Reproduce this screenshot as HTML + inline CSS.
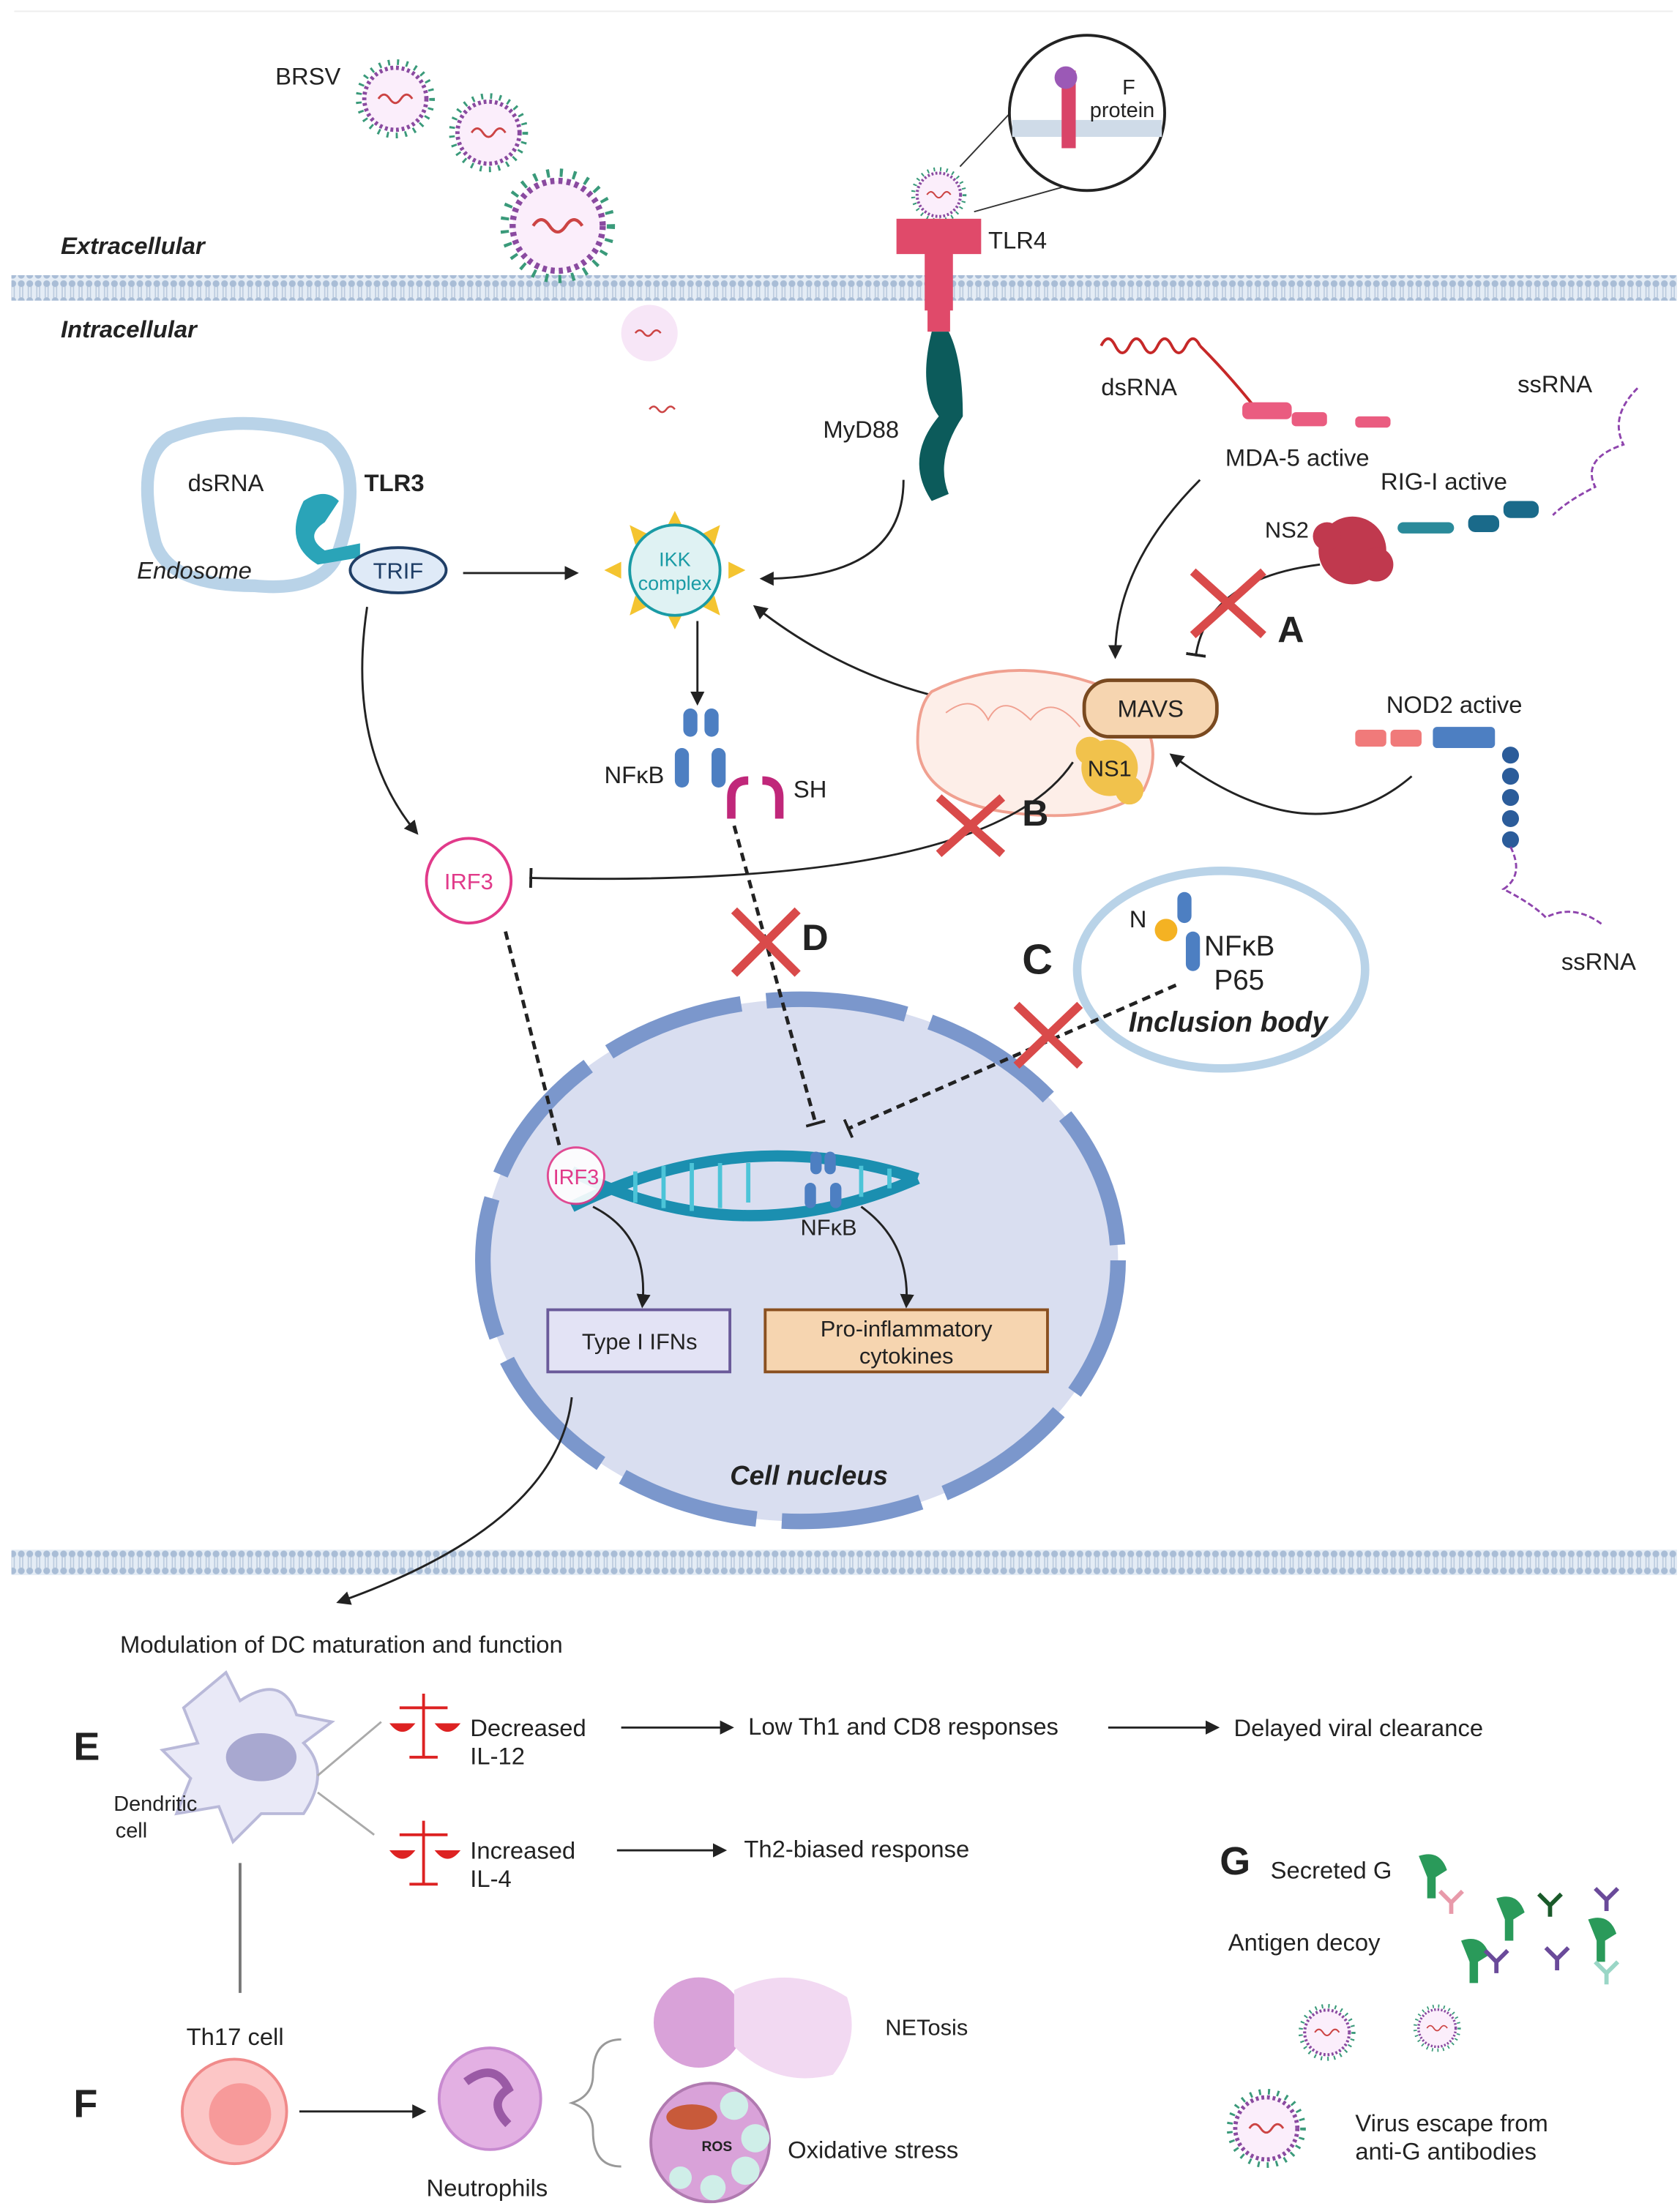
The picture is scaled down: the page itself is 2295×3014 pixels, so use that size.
<!DOCTYPE html>
<html><head><meta charset="utf-8"><style>
html,body{margin:0;padding:0;background:#fff}
svg{display:block}
text{font-family:"Liberation Sans",sans-serif;fill:#222}
</style></head><body>
<svg width="2295" height="3014" viewBox="0 0 1190 1563" xmlns="http://www.w3.org/2000/svg">
<defs>
<pattern id="mem" width="6" height="18" patternUnits="userSpaceOnUse">
<rect width="6" height="18" fill="#e4ecf5"/>
<circle cx="3" cy="3" r="2.4" fill="#a9bdd6"/>
<circle cx="3" cy="15" r="2.4" fill="#a9bdd6"/>
<line x1="2" y1="5" x2="2" y2="13" stroke="#b8c8dc" stroke-width="0.8"/>
<line x1="4" y1="5" x2="4" y2="13" stroke="#b8c8dc" stroke-width="0.8"/>
</pattern>
<marker id="ar" markerWidth="10" markerHeight="10" refX="8" refY="5" orient="auto" markerUnits="userSpaceOnUse"><path d="M0,0 L10,5 L0,10 z" fill="#222"/></marker>
<marker id="tb" markerWidth="4" markerHeight="14" refX="2" refY="7" orient="auto" markerUnits="userSpaceOnUse"><rect x="0" y="0" width="2" height="14" fill="#222"/></marker>
<g id="virus">
<circle r="22" fill="#fbeefb" stroke="#8a4aa0" stroke-width="3" stroke-dasharray="2 2"/>
<circle r="26" fill="none" stroke="#3a9a7a" stroke-width="4" stroke-dasharray="1.5 5"/>
<path d="M-12,0 q4,-6 8,0 t8,0 t8,0" fill="none" stroke="#c44" stroke-width="1.5"/>
</g>
</defs>

<!-- membranes -->
<rect x="8" y="195" width="1180" height="18" fill="url(#mem)"/>
<rect x="8" y="1098" width="1180" height="18" fill="url(#mem)"/>
<line x1="10" y1="8" x2="1185" y2="8" stroke="#eee"/>

<text x="43" y="180" font-size="17" font-weight="bold" font-style="italic">Extracellular</text>
<text x="43" y="239" font-size="17" font-weight="bold" font-style="italic">Intracellular</text>

<!-- viruses -->
<text x="195" y="60" font-size="17">BRSV</text>
<use href="#virus" x="280" y="70"/>
<use href="#virus" x="346" y="94"/>
<g transform="translate(395,160) scale(1.45)"><use href="#virus"/></g>
<circle cx="460" cy="236" r="20" fill="#f7e6f7"/>
<path d="M450,236 q3,-4 6,0 t6,0 t6,0" fill="none" stroke="#c44" stroke-width="1.3"/>
<path d="M460,290 q3,-4 6,0 t6,0 t6,0" fill="none" stroke="#c44" stroke-width="1.3"/>

<!-- TLR4 -->
<g transform="translate(665,138) scale(0.7)"><use href="#virus"/></g>
<line x1="680" y1="118" x2="725" y2="70" stroke="#333"/>
<line x1="690" y1="150" x2="780" y2="125" stroke="#333"/>
<circle cx="770" cy="80" r="55" fill="#fff" stroke="#222" stroke-width="2"/>
<rect x="717" y="85" width="106" height="12" fill="#cfdbe8"/>
<rect x="752" y="50" width="10" height="55" fill="#d94468"/>
<circle cx="755" cy="55" r="8" fill="#9b59b6"/>
<text x="795" y="67" font-size="15">F</text>
<text x="772" y="83" font-size="15">protein</text>
<path d="M635,155 h60 v25 h-20 v40 h-20 v-40 h-20z" fill="#e04a6a"/>
<rect x="657" y="190" width="16" height="45" fill="#e04a6a"/>
<path d="M660,235 q-10,40 5,60 q-25,30 -5,60 l12,-5 q-10,-25 10,-55 q0,-40 -10,-60z" fill="#0c5b5b"/>
<text x="700" y="176" font-size="17">TLR4</text>
<text x="583" y="310" font-size="17">MyD88</text>

<!-- Endosome -->
<path d="M120,310 q50,-20 110,0 q30,20 10,80 q-10,30 -60,25 q-60,0 -70,-30 q-15,-60 10,-75z" fill="#fff" stroke="#b9d3e8" stroke-width="9"/>
<text x="133" y="348" font-size="17">dsRNA</text>
<text x="258" y="348" font-size="17" font-weight="bold">TLR3</text>
<text x="97" y="410" font-size="17" font-style="italic">Endosome</text>
<path d="M215,355 q15,-10 25,0 l-10,15 q-15,10 0,20 l25,-5 v10 l-30,5 q-25,-15 -10,-45z" fill="#2aa4b8"/>
<ellipse cx="282" cy="404" rx="34" ry="16" fill="#dfeaf7" stroke="#1f3e66" stroke-width="2"/>
<text x="282" y="410" font-size="16" text-anchor="middle" style="fill:#1f3e66">TRIF</text>

<!-- IKK -->
<g fill="#f4c430">
<polygon points="478,362 484,374 472,374"/><polygon points="478,446 484,434 472,434"/>
<polygon points="428,404 440,398 440,410"/><polygon points="528,404 516,398 516,410"/>
<polygon points="446,372 458,378 450,386"/><polygon points="510,372 498,378 506,386"/>
<polygon points="446,436 458,430 450,422"/><polygon points="510,436 498,430 506,422"/>
</g>
<circle cx="478" cy="404" r="32" fill="#dff2f3" stroke="#1a9ba5" stroke-width="2"/>
<text x="478" y="401" font-size="14" text-anchor="middle" style="fill:#1a9ba5">IKK</text>
<text x="478" y="418" font-size="14" text-anchor="middle" style="fill:#1a9ba5">complex</text>

<line x1="328" y1="406" x2="408" y2="406" stroke="#222" stroke-width="1.5" marker-end="url(#ar)"/>
<path d="M640,340 q0,70 -100,70" fill="none" stroke="#222" stroke-width="1.5" marker-end="url(#ar)"/>
<path d="M760,505 q-130,0 -225,-75" fill="none" stroke="#222" stroke-width="1.5" marker-end="url(#ar)"/>
<line x1="494" y1="440" x2="494" y2="498" stroke="#222" stroke-width="1.5" marker-end="url(#ar)"/>

<!-- NFkB -->
<g fill="#4d7fc2">
<rect x="484" y="502" width="10" height="20" rx="5"/><rect x="499" y="502" width="10" height="20" rx="5"/>
<rect x="478" y="530" width="10" height="28" rx="5"/><rect x="504" y="530" width="10" height="28" rx="5"/>
</g>
<text x="428" y="555" font-size="17">NFκB</text>
<path d="M518,580 v-15 q0,-12 12,-12 M552,580 v-15 q0,-12 -12,-12" fill="none" stroke="#c0277a" stroke-width="6"/>
<text x="562" y="565" font-size="17">SH</text>

<!-- Mitochondria -->
<path d="M660,490 q60,-30 130,0 q40,30 20,70 q-30,25 -100,15 q-60,-10 -60,-50 q0,-25 10,-35z" fill="#fdeee8" stroke="#f0a090" stroke-width="2"/>
<path d="M670,505 q20,-15 30,5 q10,-20 30,0 q15,-20 35,5" fill="none" stroke="#f0a090"/>
<rect x="768" y="482" width="94" height="40" rx="18" fill="#f6d5b0" stroke="#7a4a20" stroke-width="2.5"/>
<text x="815" y="508" font-size="17" text-anchor="middle">MAVS</text>
<circle cx="786" cy="544" r="20" fill="#f1c24c"/>
<circle cx="772" cy="532" r="10" fill="#f1c24c"/><circle cx="800" cy="560" r="10" fill="#f1c24c"/>
<text x="786" y="550" font-size="16" text-anchor="middle">NS1</text>

<!-- dsRNA MDA-5 -->
<path d="M780,245 q5,-10 10,0 t10,0 t10,0 t10,0 t10,0 t10,0 t10,0" fill="none" stroke="#c62828" stroke-width="2"/>
<path d="M850,245 q20,20 40,45" stroke="#c62828" stroke-width="2" fill="none"/>
<rect x="880" y="285" width="35" height="12" rx="4" fill="#ea5c80"/>
<rect x="915" y="292" width="25" height="10" rx="3" fill="#ea5c80"/>
<rect x="960" y="295" width="25" height="8" rx="3" fill="#ea5c80"/>
<text x="780" y="280" font-size="17">dsRNA</text>
<text x="868" y="330" font-size="17">MDA-5 active</text>
<path d="M850,340 q-60,60 -60,125" fill="none" stroke="#222" stroke-width="1.5" marker-end="url(#ar)"/>

<!-- RIG-I -->
<text x="1075" y="278" font-size="17">ssRNA</text>
<text x="978" y="347" font-size="17">RIG-I active</text>
<path d="M1160,275 q-20,20 -10,40 q-30,10 -20,30 q-20,10 -30,20" fill="none" stroke="#8e44ad" stroke-width="1.5" stroke-dasharray="4 2"/>
<rect x="1065" y="355" width="25" height="12" rx="5" fill="#1a6a8a"/>
<rect x="1040" y="365" width="22" height="12" rx="5" fill="#1a6a8a"/>
<rect x="990" y="370" width="40" height="8" rx="4" fill="#2a8a9a"/>
<text x="896" y="381" font-size="16">NS2</text>
<circle cx="958" cy="390" r="24" fill="#c0394e"/>
<circle cx="940" cy="380" r="10" fill="#c0394e"/><circle cx="975" cy="400" r="12" fill="#c0394e"/>
<path d="M935,400 q-80,10 -88,65" fill="none" stroke="#222" stroke-width="1.5" marker-end="url(#tb)"/>
<path d="M845,405 L895,450 M895,405 L845,450" stroke="#d94a4a" stroke-width="6"/>
<text x="905" y="455" font-size="26" font-weight="bold">A</text>

<!-- NOD2 -->
<text x="982" y="505" font-size="17">NOD2 active</text>
<rect x="960" y="517" width="22" height="12" rx="3" fill="#f07a7a"/>
<rect x="985" y="517" width="22" height="12" rx="3" fill="#f07a7a"/>
<rect x="1015" y="515" width="44" height="15" rx="3" fill="#4d7fc2"/>
<g fill="#2b5c9a"><circle cx="1070" cy="535" r="6"/><circle cx="1070" cy="550" r="6"/><circle cx="1070" cy="565" r="6"/><circle cx="1070" cy="580" r="6"/><circle cx="1070" cy="595" r="6"/></g>
<path d="M1070,600 q10,20 -5,30 q20,10 30,20 q20,-10 40,5" fill="none" stroke="#8e44ad" stroke-width="1.5" stroke-dasharray="4 2"/>
<text x="1106" y="687" font-size="17">ssRNA</text>
<path d="M1000,550 q-70,60 -170,-15" fill="none" stroke="#222" stroke-width="1.5" marker-end="url(#ar)"/>

<!-- IRF3 -->
<path d="M260,430 q-15,100 35,160" fill="none" stroke="#222" stroke-width="1.5" marker-end="url(#ar)"/>
<circle cx="332" cy="624" r="30" fill="#fff" stroke="#e13a8a" stroke-width="2"/>
<text x="332" y="630" font-size="16" text-anchor="middle" style="fill:#e13a8a">IRF3</text>
<path d="M760,540 q-60,90 -385,82" fill="none" stroke="#222" stroke-width="1.5" marker-end="url(#tb)"/>
<path d="M665,565 L710,605 M710,565 L665,605" stroke="#d94a4a" stroke-width="6"/>
<text x="724" y="585" font-size="26" font-weight="bold">B</text>

<!-- nucleus -->
<ellipse cx="567" cy="893" rx="225" ry="185" fill="#d9def0"/>
<ellipse cx="567" cy="893" rx="225" ry="185" fill="none" stroke="#7b97cc" stroke-width="11" stroke-dasharray="100 18"/>
<text x="573" y="1052" font-size="19" font-weight="bold" font-style="italic" text-anchor="middle">Cell nucleus</text>

<!-- Inclusion body -->
<ellipse cx="865" cy="687" rx="102" ry="70" fill="#fff" stroke="#b9d3e8" stroke-width="6"/>
<text x="800" y="657" font-size="17">N</text>
<circle cx="826" cy="659" r="8" fill="#f4b223"/>
<rect x="834" y="632" width="10" height="22" rx="5" fill="#4d7fc2"/>
<rect x="840" y="660" width="10" height="28" rx="5" fill="#4d7fc2"/>
<text x="853" y="677" font-size="20">NFκB</text>
<text x="860" y="701" font-size="20">P65</text>
<text x="870" y="731" font-size="20" font-weight="bold" font-style="italic" text-anchor="middle">Inclusion body</text>
<text x="724" y="690" font-size="30" font-weight="bold">C</text>

<!-- dotted lines -->
<line x1="358" y1="660" x2="397" y2="815" stroke="#222" stroke-width="2.5" stroke-dasharray="6 4"/>
<line x1="520" y1="585" x2="578" y2="797" stroke="#222" stroke-width="2.5" stroke-dasharray="6 4" marker-end="url(#tb)"/>
<line x1="833" y1="698" x2="600" y2="800" stroke="#222" stroke-width="2.5" stroke-dasharray="6 4" marker-end="url(#tb)"/>
<path d="M520,645 L565,690 M565,645 L520,690" stroke="#d94a4a" stroke-width="6"/>
<text x="568" y="673" font-size="26" font-weight="bold">D</text>
<path d="M720,712 L765,755 M765,712 L720,755" stroke="#d94a4a" stroke-width="6"/>

<!-- DNA -->
<path d="M405,855 q120,-60 245,-20 M405,830 q120,60 245,5" fill="none" stroke="#1b8fb0" stroke-width="8"/>
<g stroke="#4cc4d8" stroke-width="3">
<line x1="450" y1="830" x2="450" y2="852"/><line x1="470" y1="826" x2="470" y2="856"/><line x1="490" y1="824" x2="490" y2="858"/><line x1="510" y1="824" x2="510" y2="856"/><line x1="530" y1="824" x2="530" y2="852"/><line x1="610" y1="826" x2="610" y2="848"/><line x1="630" y1="828" x2="630" y2="842"/></g>
<circle cx="408" cy="833" r="20" fill="#fff" stroke="#e13a8a" stroke-width="1.5" opacity="0.9"/>
<text x="408" y="839" font-size="15" text-anchor="middle" style="fill:#e13a8a">IRF3</text>
<g fill="#4d7fc2"><rect x="574" y="816" width="8" height="16" rx="4"/><rect x="584" y="816" width="8" height="16" rx="4"/><rect x="570" y="838" width="8" height="18" rx="4"/><rect x="588" y="838" width="8" height="18" rx="4"/></g>
<text x="587" y="875" font-size="16" text-anchor="middle">NFκB</text>
<path d="M420,855 q40,20 35,70" fill="none" stroke="#222" stroke-width="1.5" marker-end="url(#ar)"/>
<path d="M610,855 q35,25 32,70" fill="none" stroke="#222" stroke-width="1.5" marker-end="url(#ar)"/>
<rect x="388" y="928" width="129" height="44" fill="#e3e3f5" stroke="#6a5a9a" stroke-width="2"/>
<text x="453" y="956" font-size="16" text-anchor="middle">Type I IFNs</text>
<rect x="542" y="928" width="200" height="44" fill="#f6d5b0" stroke="#8a5020" stroke-width="2"/>
<text x="642" y="947" font-size="16" text-anchor="middle">Pro-inflammatory</text>
<text x="642" y="966" font-size="16" text-anchor="middle">cytokines</text>
<path d="M405,990 q-10,90 -165,145" fill="none" stroke="#222" stroke-width="1.5" marker-end="url(#ar)"/>

<!-- E -->
<text x="85" y="1171" font-size="17">Modulation of DC maturation and function</text>
<text x="52" y="1247" font-size="28" font-weight="bold">E</text>
<path d="M160,1185 l10,20 q30,-20 40,10 l25,5 l-20,15 q20,20 0,50 l-30,0 l-20,20 l-10,-25 l-30,5 l10,-25 l-20,-20 l25,-5 l-10,-25z" fill="#e9e9f7" stroke="#b9b9d9" stroke-width="2"/>
<ellipse cx="185" cy="1245" rx="25" ry="17" fill="#a8a8d0"/>
<text x="110" y="1283" font-size="15" text-anchor="middle">Dendritic</text>
<text x="93" y="1302" font-size="15" text-anchor="middle">cell</text>
<line x1="225" y1="1258" x2="270" y2="1220" stroke="#aaa" stroke-width="1.5"/>
<line x1="225" y1="1270" x2="265" y2="1300" stroke="#aaa" stroke-width="1.5"/>
<g stroke="#d22" stroke-width="2" fill="#d22"><line x1="300" y1="1200" x2="300" y2="1245"/><line x1="283" y1="1210" x2="317" y2="1210"/><path d="M278,1222 h14 q-7,8 -14,0z"/><path d="M310,1222 h14 q-7,8 -14,0z"/><line x1="290" y1="1245" x2="310" y2="1245"/></g>
<text x="333" y="1230" font-size="17">Decreased</text><text x="333" y="1250" font-size="17">IL-12</text>
<line x1="440" y1="1224" x2="518" y2="1224" stroke="#222" stroke-width="1.5" marker-end="url(#ar)"/>
<text x="530" y="1229" font-size="17">Low Th1 and CD8 responses</text>
<line x1="785" y1="1224" x2="862" y2="1224" stroke="#222" stroke-width="1.5" marker-end="url(#ar)"/>
<text x="874" y="1230" font-size="17">Delayed viral clearance</text>
<g stroke="#d22" stroke-width="2" fill="#d22"><line x1="300" y1="1290" x2="300" y2="1335"/><line x1="283" y1="1300" x2="317" y2="1300"/><path d="M278,1312 h14 q-7,8 -14,0z"/><path d="M310,1312 h14 q-7,8 -14,0z"/><line x1="290" y1="1335" x2="310" y2="1335"/></g>
<text x="333" y="1317" font-size="17">Increased</text><text x="333" y="1337" font-size="17">IL-4</text>
<line x1="437" y1="1311" x2="513" y2="1311" stroke="#222" stroke-width="1.5" marker-end="url(#ar)"/>
<text x="527" y="1316" font-size="17">Th2-biased response</text>
<line x1="170" y1="1320" x2="170" y2="1412" stroke="#777" stroke-width="2"/>

<!-- F -->
<text x="132" y="1449" font-size="17">Th17 cell</text>
<text x="52" y="1500" font-size="28" font-weight="bold">F</text>
<circle cx="166" cy="1496" r="37" fill="#fcc6c6" stroke="#f08a8a" stroke-width="2"/>
<circle cx="170" cy="1498" r="22" fill="#f79a9a"/>
<line x1="212" y1="1496" x2="300" y2="1496" stroke="#222" stroke-width="1.5" marker-end="url(#ar)"/>
<circle cx="347" cy="1487" r="36" fill="#e3b0e3" stroke="#c88ad0" stroke-width="2"/>
<path d="M330,1475 q20,-15 30,5 q-15,10 0,25" fill="none" stroke="#9a5aa5" stroke-width="6"/>
<text x="345" y="1556" font-size="17" text-anchor="middle">Neutrophils</text>
<path d="M440,1445 q-20,0 -20,25 q0,15 -15,20 q15,5 15,20 q0,25 20,25" fill="none" stroke="#999" stroke-width="1.5"/>
<circle cx="495" cy="1433" r="32" fill="#d9a2d9"/>
<path d="M520,1410 q40,-20 80,5 q10,30 -10,55 q-40,10 -70,-20z" fill="#f2d9f2"/>
<text x="627" y="1442" font-size="16">NETosis</text>
<circle cx="503" cy="1518" r="42" fill="#d9a2d9" stroke="#b07ab0" stroke-width="2"/>
<circle cx="520" cy="1492" r="10" fill="#cfeee8"/><circle cx="535" cy="1515" r="10" fill="#cfeee8"/><circle cx="528" cy="1538" r="10" fill="#cfeee8"/><circle cx="482" cy="1543" r="8" fill="#cfeee8"/><circle cx="505" cy="1550" r="9" fill="#cfeee8"/>
<ellipse cx="490" cy="1500" rx="18" ry="9" fill="#c85a3a"/>
<text x="497" y="1524" font-size="10" font-weight="bold">ROS</text>
<text x="558" y="1529" font-size="17">Oxidative stress</text>

<!-- G -->
<text x="864" y="1328" font-size="28" font-weight="bold">G</text>
<text x="900" y="1331" font-size="17">Secreted G</text>
<text x="870" y="1382" font-size="17">Antigen decoy</text>
<g fill="#2a9a5a"><path d="M1005,1315 q15,-5 20,10 l-8,5 v15 h-6 v-15z"/><path d="M1060,1345 q15,-5 20,10 l-8,5 v15 h-6 v-15z"/><path d="M1125,1360 q15,-5 20,10 l-8,5 v15 h-6 v-15z"/><path d="M1035,1375 q15,-5 20,10 l-8,5 v15 h-6 v-15z"/></g>
<g stroke="#6a4a9a" stroke-width="3" fill="none"><path d="M1130,1338 l8,8 l8,-8 M1138,1346 v8"/><path d="M1095,1380 l8,8 l8,-8 M1103,1388 v8"/><path d="M1052,1382 l8,8 l8,-8 M1060,1390 v8"/></g>
<g stroke="#1a5a2a" stroke-width="3" fill="none"><path d="M1090,1342 l8,8 l8,-8 M1098,1350 v8"/></g>
<g stroke="#9ad6c6" stroke-width="3" fill="none"><path d="M1130,1390 l8,8 l8,-8 M1138,1398 v8"/></g>
<g stroke="#e89aaa" stroke-width="3" fill="none"><path d="M1020,1340 l8,8 l8,-8 M1028,1348 v8"/></g>
<g transform="translate(940,1440) scale(0.72)"><use href="#virus"/></g>
<g transform="translate(1018,1437) scale(0.6)"><use href="#virus"/></g>
<use href="#virus" x="897" y="1508"/>
<text x="960" y="1510" font-size="17">Virus escape from</text>
<text x="960" y="1530" font-size="17">anti-G antibodies</text>
</svg>
</body></html>
